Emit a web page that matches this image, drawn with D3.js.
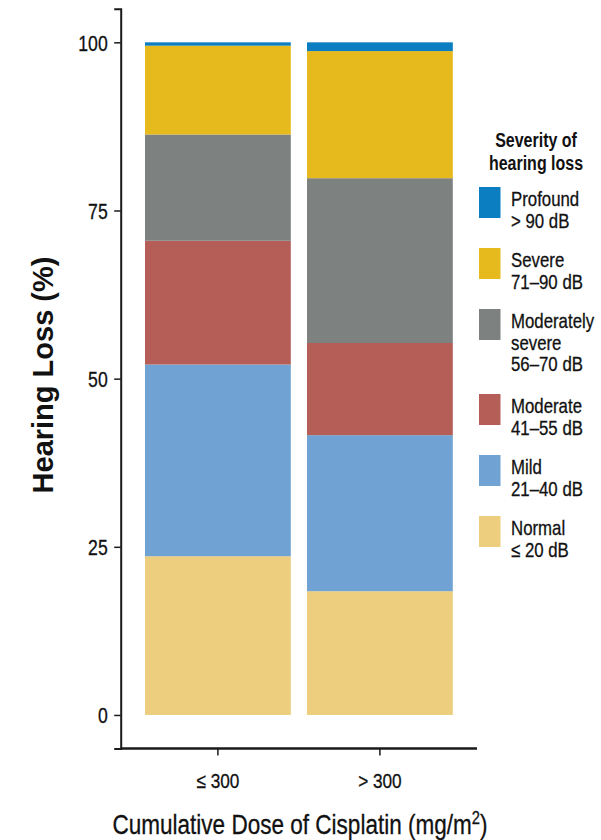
<!DOCTYPE html>
<html>
<head>
<meta charset="utf-8">
<script src="https://cdn.jsdelivr.net/npm/d3@7"></script>
<style>
  html, body { margin: 0; padding: 0; background: #fff; }
  svg { display: block; }
  text { font-family: "Liberation Sans", Arial, Helvetica, sans-serif; }
</style>
</head>
<body>
<svg id="chart" width="601" height="840"></svg>
<script>
// ---- data ----
const categories = ["\u2264 300", "> 300"];
const severityKeys = ["Normal", "Mild", "Moderate", "ModSevere", "Severe", "Profound"];
const normalValues    = [23.6, 18.4];
const mildValues      = [28.5, 23.2];
const moderateValues  = [18.4, 13.7];
const modSevereValues = [15.8, 24.5];
const severeValues    = [13.2, 18.9];
const profoundValues  = [0.5, 1.3];
const yTickValues = [0, 25, 50, 75, 100];
const legendLabels = [
  ["Profound", "> 90 dB"],
  ["Severe", "71\u201390 dB"],
  ["Moderately", "severe", "56\u201370 dB"],
  ["Moderate", "41\u201355 dB"],
  ["Mild", "21\u201340 dB"],
  ["Normal", "\u2264 20 dB"]
];
const legendKeys = ["Profound", "Severe", "ModSevere", "Moderate", "Mild", "Normal"];
const colors = {
  Normal: "#ecce7e",
  Mild: "#70a3d3",
  Moderate: "#b55e58",
  ModSevere: "#7d8180",
  Severe: "#e6b91c",
  Profound: "#0b7ec2"
};

const rows = categories.map((c, i) => ({
  cat: c,
  Normal: normalValues[i],
  Mild: mildValues[i],
  Moderate: moderateValues[i],
  ModSevere: modSevereValues[i],
  Severe: severeValues[i],
  Profound: profoundValues[i]
}));

const NARROW = 0.82; // condensed look (Arial Narrow proportions)
const svg = d3.select("#chart");

// helper: condensed text at (x, y)
function narrowText(parent, x, y, str, size, opts = {}) {
  const t = parent.append("text")
    .attr("transform", `translate(${x},${y}) scale(${NARROW},1)`)
    .attr("font-size", size)
    .attr("fill", "#111")
    .attr("stroke", "#111")
    .attr("stroke-width", opts.weight === "bold" ? 0 : 0.3)
    .attr("text-anchor", opts.anchor || "start")
    .attr("font-weight", opts.weight || "normal")
    .text(str);
  return t;
}

const x = d3.scaleBand().domain(categories).range([136.9, 460.9]).paddingInner(0.1).paddingOuter(0.05);
const y = d3.scaleLinear().domain([-5, 105]).range([748.6, 8.7]);

const stack = d3.stack().keys(severityKeys)(rows);

svg.append("g").selectAll("g").data(stack).join("g")
  .attr("fill", d => colors[d.key])
  .selectAll("rect").data(d => d).join("rect")
  .attr("x", d => x(d.data.cat))
  .attr("width", x.bandwidth())
  .attr("y", d => y(d[1]))
  .attr("height", d => y(d[0]) - y(d[1]));

// y axis
const yAxis = svg.append("g")
  .attr("transform", "translate(120.7,0)")
  .call(d3.axisLeft(y).tickValues(yTickValues).tickSizeOuter(0).tickSize(6.5).tickPadding(6));
yAxis.select(".domain").attr("stroke", "#1a1a1a").attr("stroke-width", 2);
yAxis.selectAll(".tick line").attr("stroke", "#1a1a1a").attr("stroke-width", 1.5);
yAxis.selectAll(".tick text")
  .attr("font-size", 21.5).attr("fill", "#111").attr("stroke", "#111").attr("stroke-width", 0.3)
  .attr("dy", "0.36em")
  .attr("x", -13 / NARROW)
  .attr("transform", `scale(${NARROW},1)`);

// x axis
const xAxis = svg.append("g")
  .attr("transform", `translate(0,${y(-5)})`)
  .call(d3.axisBottom(x).tickSizeOuter(0).tickSize(7).tickPadding(17));
xAxis.select(".domain").attr("d", "M120.7,0H477").attr("stroke", "#1a1a1a").attr("stroke-width", 2.5);
xAxis.selectAll(".tick line").attr("stroke", "#1a1a1a").attr("stroke-width", 1.5);
xAxis.selectAll(".tick text")
  .attr("font-size", 21).attr("fill", "#111").attr("stroke", "#111").attr("stroke-width", 0.3)
  .attr("transform", `scale(${NARROW},1)`);

// axis titles
svg.append("text")
  .attr("transform", "translate(53,375) rotate(-90)")
  .attr("text-anchor", "middle")
  .attr("font-weight", "bold")
  .attr("font-size", 29)
  .attr("fill", "#111")
  .text("Hearing Loss (%)");

const xt = narrowText(svg, 300, 834, "Cumulative Dose of Cisplatin (mg/m", 27.5, { anchor: "middle" });
xt.append("tspan").attr("baseline-shift", "super").attr("font-size", 18).text("2");
xt.append("tspan").text(")");

// legend
const leg = svg.append("g");
narrowText(leg, 536, 147, "Severity of", 19.5, { anchor: "middle", weight: "bold" });
narrowText(leg, 536, 170, "hearing loss", 19.5, { anchor: "middle", weight: "bold" });

let ly = 187;
legendKeys.forEach((k, i) => {
  const lines = legendLabels[i];
  leg.append("rect").attr("x", 479).attr("y", ly).attr("width", 21.5).attr("height", 31).attr("fill", colors[k]);
  lines.forEach((t, j) => {
    narrowText(leg, 511, ly + 19 + j * 21.5, t, 20.5);
  });
  ly += lines.length > 2 ? 85 : 61;
});
</script>
</body>
</html>
